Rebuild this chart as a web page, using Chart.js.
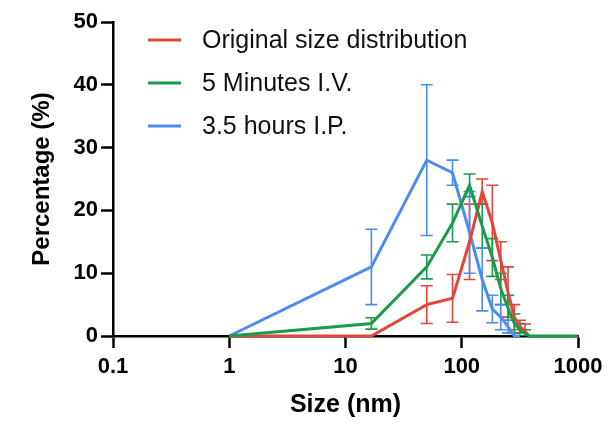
<!DOCTYPE html>
<html>
<head>
<meta charset="utf-8">
<script src="https://cdn.jsdelivr.net/npm/chart.js@4.4.1/dist/chart.umd.min.js"></script>
<style>
  html, body { margin: 0; padding: 0; background: #ffffff; }
  #wrap { width: 610px; height: 424px; }
</style>
</head>
<body>
<div id="wrap"><canvas id="c" width="610" height="424"></canvas></div>
<script>
// ---- data ----
const sizes = [1, 16.7, 50, 83.3, 116.7, 150, 183.3, 216.7, 250, 283.3, 316.7, 350, 383.3, 1000];

const seriesNames = ["Original size distribution", "5 Minutes I.V.", "3.5 hours I.P."];

const originalPct = [0, 0, 5, 6, 15, 23, 18, 12, 7, 3, 1.5, 0.7, 0, null];
const originalErr = [0, 0, 3, 3.8, 6, 2, 6, 3, 4, 2, 1, 1.2, 0, null];

const ivPct = [0, 2, 11, 18, 24, 17.5, 12.5, 7.5, 4.5, 2, 1, 0.4, 0, 0];
const ivErr = [0, 0.9, 1.9, 3, 1.8, 3.5, 3, 2.5, 2, 1.5, 1, 0.6, 0, 0];

const ipPct = [0, 11, 28, 26, 16.5, 9, 4.3, 3, 1.5, 0, 0, null, null, null];
const ipErr = [0, 6, 12, 2, 6.5, 5, 2.2, 2, 1, 0, 0, null, null, null];

const xTicks = [0.1, 1, 10, 100, 1000];
const xTickLabels = ["0.1", "1", "10", "100", "1000"];
const yTicks = [0, 10, 20, 30, 40, 50];

const colors = ["#e2463b", "#1b9a4b", "#4a8cf2"];

function pts(vals) {
  return sizes.map((s, i) => ({ x: s, y: vals[i] }));
}

// ---- error bars drawn through the chart's scales ----
const errorBarPlugin = {
  id: 'errorBars',
  beforeDatasetsDraw(chart) {
    const { ctx, chartArea, scales: { x, y } } = chart;
    ctx.save();
    ctx.beginPath();
    ctx.rect(chartArea.left, chartArea.top - 2, chartArea.right - chartArea.left + 4, chartArea.bottom - chartArea.top + 2);
    ctx.clip();
    chart.data.datasets.forEach((ds) => {
      const errs = ds.errors;
      if (!errs) return;
      ctx.strokeStyle = ds.borderColor;
      ctx.lineWidth = 1.6;
      ds.data.forEach((p, i) => {
        const e = errs[i];
        if (p.y == null || !e) return;
        const px = x.getPixelForValue(p.x);
        const yt = y.getPixelForValue(p.y + e);
        const yb = y.getPixelForValue(p.y - e);
        const cw = 6;
        ctx.beginPath();
        ctx.moveTo(px, yt); ctx.lineTo(px, yb);
        ctx.moveTo(px - cw, yt); ctx.lineTo(px + cw, yt);
        ctx.moveTo(px - cw, yb); ctx.lineTo(px + cw, yb);
        ctx.stroke();
      });
    });
    ctx.restore();
  }
};

// ---- legend drawn from dataset labels/colours ----
const legendPlugin = {
  id: 'sideLegend',
  afterDraw(chart) {
    const { ctx } = chart;
    ctx.save();
    ctx.font = '25px "Liberation Sans", Arial, sans-serif';
    ctx.textBaseline = 'middle';
    ctx.textAlign = 'left';
    chart.data.datasets.forEach((ds, i) => {
      const yy = 40 + i * 43;
      ctx.strokeStyle = ds.borderColor;
      ctx.lineWidth = 3;
      ctx.beginPath();
      ctx.moveTo(148, yy); ctx.lineTo(181, yy);
      ctx.stroke();
      ctx.fillStyle = '#111111';
      ctx.fillText(ds.label, 202, yy + 1);
    });
    ctx.restore();
  }
};

const FONT = '"Liberation Sans", Arial, sans-serif';

new Chart(document.getElementById('c'), {
  type: 'line',
  data: {
    datasets: [
      { label: seriesNames[0], data: pts(originalPct), errors: originalErr, borderColor: colors[0], backgroundColor: colors[0], order: 1 },
      { label: seriesNames[1], data: pts(ivPct), errors: ivErr, borderColor: colors[1], backgroundColor: colors[1], order: 0 },
      { label: seriesNames[2], data: pts(ipPct), errors: ipErr, borderColor: colors[2], backgroundColor: colors[2], order: 2 }
    ]
  },
  options: {
    responsive: false,
    animation: false,
    devicePixelRatio: 1,
    layout: { padding: { left: 0, right: 32, top: 22, bottom: 0 } },
    elements: {
      line: { borderWidth: 3, tension: 0, fill: false, borderJoinStyle: 'miter', capBezierPoints: false },
      point: { radius: 0, hoverRadius: 0 }
    },
    datasets: { line: { clip: 6, spanGaps: false } },
    plugins: {
      legend: { display: false },
      tooltip: { enabled: false },
      title: { display: false }
    },
    scales: {
      x: {
        type: 'logarithmic',
        min: 0.1,
        max: 1000,
        afterBuildTicks(scale) { scale.ticks = xTicks.map(v => ({ value: v })); },
        afterFit(scale) { scale.height = 88; },
        ticks: {
          autoSkip: false,
          maxRotation: 0,
          padding: 6,
          color: '#000',
          font: { family: FONT, size: 22, weight: 'bold' },
          callback(value) { const k = xTicks.indexOf(value); return k >= 0 ? xTickLabels[k] : ''; }
        },
        grid: { drawOnChartArea: false, drawTicks: true, tickLength: 12, tickWidth: 2.5, tickColor: '#000' },
        border: { display: true, width: 2.5, color: '#000' },
        title: { display: true, text: 'Size (nm)', color: '#000', font: { family: FONT, size: 25, weight: 'bold' }, padding: { top: 0, bottom: 4 } }
      },
      y: {
        type: 'linear',
        min: 0,
        max: 50,
        afterBuildTicks(scale) { scale.ticks = yTicks.map(v => ({ value: v })); },
        afterFit(scale) { scale.width = 113; },
        ticks: {
          padding: 3,
          color: '#000',
          font: { family: FONT, size: 22, weight: 'bold' }
        },
        grid: { drawOnChartArea: false, drawTicks: true, tickLength: 12, tickWidth: 2.5, tickColor: '#000' },
        border: { display: true, width: 2.5, color: '#000' },
        title: { display: true, text: 'Percentage (%)', color: '#000', font: { family: FONT, size: 24, weight: 'bold' }, padding: { top: 28, bottom: 0 } }
      }
    }
  },
  plugins: [errorBarPlugin, legendPlugin]
});
</script>
</body>
</html>
